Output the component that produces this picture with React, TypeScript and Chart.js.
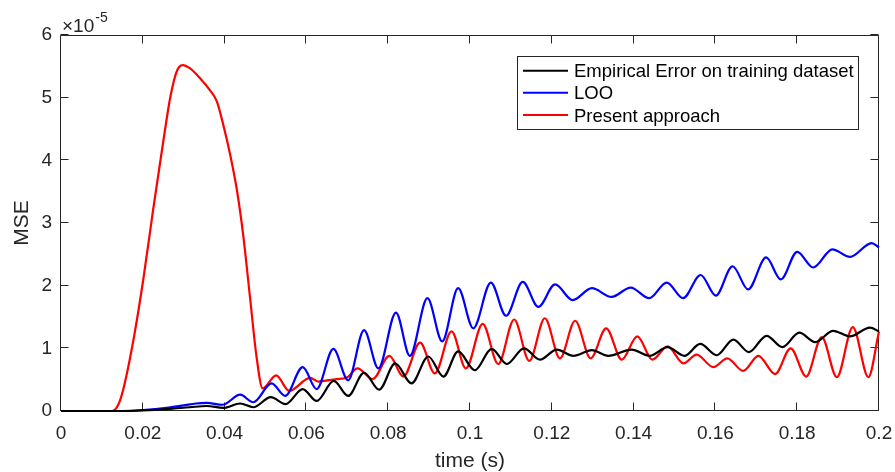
import React, { useEffect, useRef } from "react";
import { Chart, registerables } from "chart.js";

Chart.register(...registerables);

// time (s)
const timeEmpirical = [0, 0.015, 0.02, 0.0258, 0.0315, 0.0356, 0.0397, 0.0438, 0.047, 0.0513, 0.0549, 0.0591, 0.0625, 0.0667, 0.0702, 0.0741, 0.0778, 0.0817, 0.0857, 0.0898, 0.0935, 0.0971, 0.1012, 0.1053, 0.109, 0.1132, 0.1171, 0.1212, 0.1253, 0.1298, 0.1338, 0.1395, 0.144, 0.1483, 0.1524, 0.1563, 0.1603, 0.1644, 0.1682, 0.1725, 0.1764, 0.1805, 0.1844, 0.1888, 0.1929, 0.1978, 0.2];
// MSE (x 1e-5)
const mseEmpirical = [0, 0, 0.01, 0.03, 0.06, 0.08, 0.05, 0.12, 0.06, 0.22, 0.11, 0.35, 0.16, 0.48, 0.24, 0.61, 0.34, 0.76, 0.44, 0.87, 0.55, 0.95, 0.65, 0.99, 0.75, 1.0, 0.82, 0.98, 0.88, 0.97, 0.88, 0.98, 0.88, 1.02, 0.88, 1.07, 0.89, 1.14, 0.94, 1.2, 1.02, 1.25, 1.1, 1.28, 1.19, 1.33, 1.27];

const timeLoo = [0, 0.015, 0.0201, 0.0258, 0.03, 0.033, 0.0356, 0.0395, 0.0438, 0.047, 0.0515, 0.0548, 0.0591, 0.0625, 0.0666, 0.0702, 0.0741, 0.0776, 0.0819, 0.0853, 0.0896, 0.0932, 0.0971, 0.1008, 0.1051, 0.1088, 0.1129, 0.1167, 0.1208, 0.1251, 0.1298, 0.1346, 0.1393, 0.1438, 0.1481, 0.1521, 0.1564, 0.1601, 0.1642, 0.168, 0.1724, 0.176, 0.18, 0.1839, 0.1886, 0.1929, 0.1982, 0.2];
const mseLoo = [0, 0, 0.016, 0.05, 0.09, 0.12, 0.13, 0.1, 0.26, 0.14, 0.44, 0.24, 0.7, 0.35, 0.99, 0.49, 1.29, 0.68, 1.57, 0.88, 1.8, 1.11, 1.96, 1.32, 2.05, 1.52, 2.06, 1.66, 2.02, 1.77, 1.96, 1.82, 1.97, 1.8, 2.05, 1.8, 2.17, 1.84, 2.31, 1.94, 2.45, 2.1, 2.54, 2.29, 2.58, 2.46, 2.68, 2.61];

const timePresent = [0, 0.0125, 0.014, 0.0152, 0.0177, 0.0201, 0.0225, 0.025, 0.0267, 0.0283, 0.0297, 0.0315, 0.034, 0.0364, 0.0381, 0.0397, 0.0413, 0.043, 0.0446, 0.0462, 0.0478, 0.0493, 0.0526, 0.0558, 0.0609, 0.0629, 0.0674, 0.0698, 0.0725, 0.0762, 0.0803, 0.0837, 0.0878, 0.0914, 0.0955, 0.099, 0.1031, 0.1069, 0.1108, 0.1145, 0.1183, 0.122, 0.1257, 0.1295, 0.1333, 0.1371, 0.1409, 0.1446, 0.1483, 0.1522, 0.1554, 0.1595, 0.1629, 0.1668, 0.1705, 0.1746, 0.1784, 0.1822, 0.186, 0.1897, 0.1936, 0.1974, 0.2];
const msePresent = [0, 0, 0.1, 0.34, 1.13, 2.09, 3.2, 4.3, 5.0, 5.42, 5.52, 5.47, 5.31, 5.12, 4.94, 4.56, 4.11, 3.53, 2.78, 1.82, 0.87, 0.36, 0.57, 0.32, 0.53, 0.47, 0.51, 0.53, 0.68, 0.51, 0.88, 0.55, 1.09, 0.6, 1.27, 0.68, 1.39, 0.75, 1.46, 0.8, 1.48, 0.84, 1.44, 0.84, 1.32, 0.82, 1.19, 0.82, 1.03, 0.76, 0.9, 0.7, 0.84, 0.64, 0.88, 0.59, 1.0, 0.55, 1.18, 0.54, 1.34, 0.54, 1.27];

const seriesNames = ["Empirical Error on training dataset", "LOO", "Present approach"];
const seriesColors = ["#000000", "#0000ff", "#ff0000"];
const xTickValues = [0, 0.02, 0.04, 0.06, 0.08, 0.1, 0.12, 0.14, 0.16, 0.18, 0.2];
const yTickValues = [0, 1, 2, 3, 4, 5, 6];
const xLabel = "time (s)";
const yLabel = "MSE";
const exponentBase = "\u00d710";
const exponentPower = "-5";

const FONT = '"Liberation Sans", Arial, sans-serif';
const AXIS_COLOR = "#262626";

const framePlugin = {
  id: "frame",
  beforeDatasetsDraw(chart: any) {
    const { ctx, chartArea: a, scales } = chart;
    ctx.save();
    ctx.strokeStyle = AXIS_COLOR;
    ctx.lineWidth = 1;
    const L = Math.floor(a.left) - 0.5;
    const R = Math.floor(a.right) - 0.5;
    const T = Math.floor(a.top) + 0.5;
    const B = Math.floor(a.bottom) - 0.5;
    ctx.beginPath();
    ctx.rect(L, T, R - L, B - T);
    const tl = 8;
    xTickValues.forEach((v) => {
      const px = Math.round(scales.x.getPixelForValue(v)) - 0.5;
      ctx.moveTo(px, B);
      ctx.lineTo(px, B - tl);
      ctx.moveTo(px, T);
      ctx.lineTo(px, T + tl);
    });
    yTickValues.forEach((v) => {
      const py = Math.round(scales.y.getPixelForValue(v)) - 0.5;
      ctx.moveTo(L, py);
      ctx.lineTo(L + tl, py);
      ctx.moveTo(R, py);
      ctx.lineTo(R - tl, py);
    });
    ctx.stroke();
    ctx.fillStyle = AXIS_COLOR;
    ctx.textBaseline = "alphabetic";
    ctx.textAlign = "left";
    ctx.font = `19px ${FONT}`;
    ctx.fillText(exponentBase, a.left + 1, 32);
    const w = ctx.measureText(exponentBase).width;
    ctx.font = `14px ${FONT}`;
    ctx.fillText(exponentPower, a.left + 1 + w + 1, 22);
    ctx.restore();
  },
  afterDraw(chart: any) {
    const { ctx } = chart;
    ctx.save();
    const bx = 517.5, by = 56.5, bw = 341, bh = 73;
    ctx.fillStyle = "#ffffff";
    ctx.fillRect(bx, by, bw, bh);
    ctx.strokeStyle = AXIS_COLOR;
    ctx.lineWidth = 1;
    ctx.strokeRect(bx, by, bw, bh);
    const rows = [70.7, 92.7, 115];
    seriesNames.forEach((name, i) => {
      ctx.strokeStyle = seriesColors[i];
      ctx.lineWidth = 2;
      ctx.beginPath();
      ctx.moveTo(523, rows[i]);
      ctx.lineTo(568, rows[i]);
      ctx.stroke();
      ctx.fillStyle = "#000000";
      ctx.font = `18.5px ${FONT}`;
      ctx.textBaseline = "alphabetic";
      ctx.textAlign = "left";
      ctx.fillText(name, 574, rows[i] + 6.7);
    });
    ctx.restore();
  },
};

const toPoints = (xs: number[], ys: number[]) => xs.map((x, i) => ({ x, y: ys[i] }));

export default function App() {
  const ref = useRef<HTMLCanvasElement | null>(null);
  useEffect(() => {
    if (!ref.current) return;
    const common = {
      borderWidth: 2.2,
      pointRadius: 0,
      cubicInterpolationMode: "monotone" as const,
      fill: false,
      clip: false as any,
    };
    const chart = new Chart(ref.current, {
      type: "line",
      data: {
        datasets: [
          { ...common, label: seriesNames[0], data: toPoints(timeEmpirical, mseEmpirical), borderColor: seriesColors[0] },
          { ...common, label: seriesNames[1], data: toPoints(timeLoo, mseLoo), borderColor: seriesColors[1] },
          { ...common, label: seriesNames[2], data: toPoints(timePresent, msePresent), borderColor: seriesColors[2] },
        ],
      },
      options: {
        animation: false,
        responsive: false,
        devicePixelRatio: 1,
        layout: { padding: { top: 35, right: 16, left: 0, bottom: 0 } },
        plugins: { legend: { display: false }, tooltip: { enabled: false } },
        scales: {
          x: {
            type: "linear",
            min: 0,
            max: 0.2,
            grid: { display: false, drawTicks: false },
            border: { display: false },
            afterBuildTicks: (s: any) => {
              s.ticks = xTickValues.map((v) => ({ value: v }));
            },
            afterFit: (s: any) => {
              s.height = 61;
              s.paddingLeft = 0;
              s.paddingRight = 0;
            },
            ticks: {
              color: AXIS_COLOR,
              font: { family: FONT, size: 19 },
              padding: 11,
              maxRotation: 0,
              autoSkip: false,
              callback: (v: any) => String(Number(Number(v).toFixed(2))),
            },
            title: {
              display: true,
              text: xLabel,
              color: AXIS_COLOR,
              font: { family: FONT, size: 21 },
              padding: { top: 0, bottom: -2 },
            },
          },
          y: {
            type: "linear",
            min: 0,
            max: 6,
            grid: { display: false, drawTicks: false },
            border: { display: false },
            afterBuildTicks: (s: any) => {
              s.ticks = yTickValues.map((v) => ({ value: v }));
            },
            afterFit: (s: any) => {
              s.width = 61;
              s.paddingTop = 0;
              s.paddingBottom = 0;
            },
            ticks: {
              color: AXIS_COLOR,
              font: { family: FONT, size: 19 },
              padding: 9,
              autoSkip: false,
              callback: (v: any) => String(v),
            },
            title: {
              display: true,
              text: yLabel,
              color: AXIS_COLOR,
              font: { family: FONT, size: 21 },
              padding: { top: 10, bottom: 0 },
            },
          },
        },
      },
      plugins: [framePlugin],
    });
    return () => chart.destroy();
  }, []);
  return (
    <div style={{ position: "fixed", left: 0, top: 0, width: 895, height: 472, background: "#fff" }}>
      <canvas ref={ref} width={895} height={472} style={{ display: "block", width: 895, height: 472 }} />
    </div>
  );
}
